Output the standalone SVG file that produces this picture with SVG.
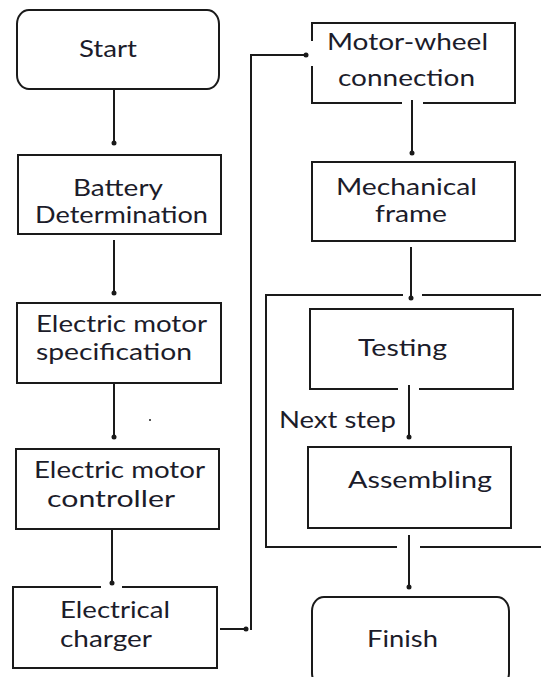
<svg xmlns="http://www.w3.org/2000/svg" width="541" height="677" viewBox="0 0 541 677">
<style>
.box{fill:#fff;stroke:#1a1a1a;stroke-width:2}
.ln{fill:none;stroke:#1a1a1a;stroke-width:2}
.gap{stroke:#fff;stroke-width:4}
.t{font-family:Lato,"Liberation Sans",sans-serif;font-size:24px;fill:#1c1c2a}
.dot{fill:#1a1a1a}
</style>
<rect width="541" height="677" fill="#fff"/>

<g id="start">
<rect class="box" x="17" y="10" width="202" height="79" rx="12" ry="14"/>
<text class="t" x="79" y="57" textLength="58" lengthAdjust="spacingAndGlyphs">Start</text>
</g>

<g id="battery">
<rect class="box" x="18" y="155" width="203" height="79"/>
<text class="t" x="73" y="196" textLength="90" lengthAdjust="spacingAndGlyphs">Battery</text>
<text class="t" x="35" y="223" textLength="173" lengthAdjust="spacingAndGlyphs">Determination</text>
</g>

<g id="spec">
<rect class="box" x="17" y="303" width="204" height="80"/>
<text class="t" x="36" y="332" textLength="171" lengthAdjust="spacingAndGlyphs">Electric motor</text>
<text class="t" x="36" y="360" textLength="156" lengthAdjust="spacingAndGlyphs">specification</text>
</g>

<g id="controller">
<rect class="box" x="16" y="449" width="203" height="80"/>
<text class="t" x="34" y="478" textLength="171" lengthAdjust="spacingAndGlyphs">Electric motor</text>
<text class="t" x="47" y="507" textLength="128" lengthAdjust="spacingAndGlyphs">controller</text>
</g>

<g id="charger">
<rect class="box" x="13" y="587" width="204" height="81"/>
<line class="gap" x1="101" y1="587" x2="122" y2="587"/>
<text class="t" x="60" y="618" textLength="110" lengthAdjust="spacingAndGlyphs">Electrical</text>
<text class="t" x="60" y="647" textLength="92" lengthAdjust="spacingAndGlyphs">charger</text>
</g>

<g id="motorwheel">
<rect class="box" x="312" y="23" width="203" height="80"/>
<line class="gap" x1="312" y1="41" x2="312" y2="66"/>
<line class="gap" x1="402" y1="103" x2="423" y2="103"/>
<text class="t" x="327" y="50" textLength="161" lengthAdjust="spacingAndGlyphs">Motor-wheel</text>
<text class="t" x="338" y="86" textLength="137" lengthAdjust="spacingAndGlyphs">connection</text>
</g>

<g id="frame">
<rect class="box" x="312" y="162" width="203" height="79"/>
<text class="t" x="336" y="195" textLength="141" lengthAdjust="spacingAndGlyphs">Mechanical</text>
<text class="t" x="375" y="222" textLength="72" lengthAdjust="spacingAndGlyphs">frame</text>
</g>

<g id="container">
<path class="ln" d="M403 295 H266 V547 H397 M420 547 H545 M422 295 H545"/>
</g>

<g id="testing">
<rect class="box" x="310" y="309" width="203" height="80"/>
<line class="gap" x1="398" y1="389" x2="419" y2="389"/>
<text class="t" x="358" y="356" textLength="89" lengthAdjust="spacingAndGlyphs">Testing</text>
</g>

<g id="assembling">
<rect class="box" x="308" y="447" width="203" height="81"/>
<text class="t" x="348" y="488" textLength="144" lengthAdjust="spacingAndGlyphs">Assembling</text>
</g>

<g id="finish">
<rect class="box" x="312" y="597" width="197" height="90" rx="12" ry="14"/>
<text class="t" x="367" y="647" textLength="71" lengthAdjust="spacingAndGlyphs">Finish</text>
</g>

<g id="connectors">
<line class="ln" x1="114" y1="89" x2="114" y2="143"/>
<circle class="dot" cx="114" cy="143" r="2.5"/>
<line class="ln" x1="114" y1="240" x2="114" y2="293"/>
<circle class="dot" cx="114" cy="293" r="2.5"/>
<line class="ln" x1="114" y1="383" x2="114" y2="437"/>
<circle class="dot" cx="114" cy="437" r="2.5"/>
<line class="ln" x1="112" y1="529" x2="112" y2="583"/>
<circle class="dot" cx="112" cy="583" r="2.5"/>
<line class="ln" x1="220" y1="629" x2="246" y2="629"/>
<circle class="dot" cx="246" cy="629" r="2.5"/>
<path class="ln" d="M251 630 V55 H306"/>
<circle class="dot" cx="306" cy="55" r="2.5"/>
<line class="ln" x1="412" y1="100" x2="412" y2="153"/>
<circle class="dot" cx="412" cy="153" r="2.5"/>
<line class="ln" x1="411" y1="247" x2="411" y2="298"/>
<circle class="dot" cx="411" cy="298" r="2.5"/>
<line class="ln" x1="409" y1="385" x2="409" y2="437"/>
<circle class="dot" cx="409" cy="437" r="2.5"/>
<text class="t" x="279" y="428" textLength="117" lengthAdjust="spacingAndGlyphs">Next step</text>
<line class="ln" x1="409" y1="535" x2="409" y2="587"/>
<circle class="dot" cx="409" cy="587" r="2.5"/>
</g>
<rect x="149" y="419" width="2" height="2" fill="#555"/>
</svg>
